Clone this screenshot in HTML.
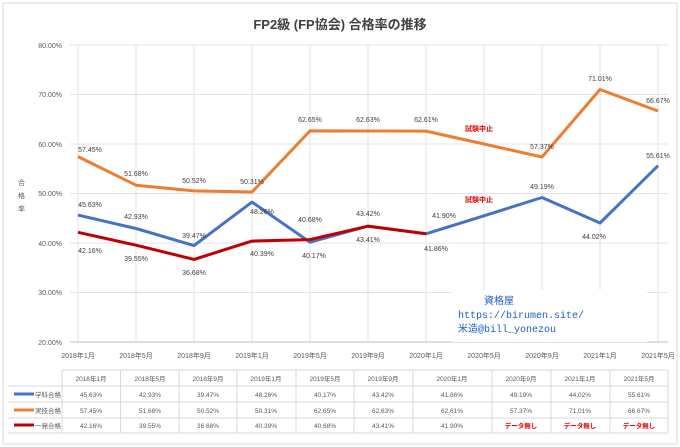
<!DOCTYPE html>
<html><head><meta charset="utf-8"><style>
body{margin:0;background:#fff;}
svg{display:block;font-family:"Liberation Sans","Noto Sans CJK JP",sans-serif;}
</style></head><body>
<svg width="680" height="447" viewBox="0 0 680 447" xmlns="http://www.w3.org/2000/svg">
<rect x="3" y="3" width="674" height="441" fill="#fff" stroke="#d9d9d9"/>
<text x="340" y="29" text-anchor="middle" font-size="13" font-weight="bold" fill="#404040">FP2級 (FP協会) 合格率の推移</text>
<g stroke="#e3e3e3" stroke-width="1">
<line x1="70" y1="45" x2="668" y2="45"/><line x1="70" y1="94.5" x2="668" y2="94.5"/><line x1="70" y1="144" x2="668" y2="144"/><line x1="70" y1="193.5" x2="668" y2="193.5"/><line x1="70" y1="243" x2="668" y2="243"/><line x1="70" y1="292.5" x2="668" y2="292.5"/>
<line x1="78" y1="45" x2="78" y2="342"/><line x1="136" y1="45" x2="136" y2="342"/><line x1="194" y1="45" x2="194" y2="342"/><line x1="252" y1="45" x2="252" y2="342"/><line x1="310" y1="45" x2="310" y2="342"/><line x1="368" y1="45" x2="368" y2="342"/><line x1="426" y1="45" x2="426" y2="342"/><line x1="484" y1="45" x2="484" y2="342"/><line x1="542" y1="45" x2="542" y2="342"/><line x1="600" y1="45" x2="600" y2="342"/><line x1="658" y1="45" x2="658" y2="342"/>
</g>
<line x1="70" y1="342" x2="668" y2="342" stroke="#bfbfbf"/>
<g font-size="7" fill="#595959" text-anchor="end">
<text x="62" y="48">80.00%</text><text x="62" y="97">70.00%</text><text x="62" y="147">60.00%</text><text x="62" y="196">50.00%</text><text x="62" y="246">40.00%</text><text x="62" y="295">30.00%</text><text x="62" y="345">20.00%</text>
</g>
<g font-size="7" fill="#595959"><text x="18" y="185">合</text><text x="18" y="198">格</text><text x="18" y="211">率</text></g>
<g font-size="7" fill="#595959" text-anchor="middle">
<text x="78" y="358">2018年1月</text><text x="136" y="358">2018年5月</text><text x="194" y="358">2018年9月</text><text x="252" y="358">2019年1月</text><text x="310" y="358">2019年5月</text><text x="368" y="358">2019年9月</text><text x="426" y="358">2020年1月</text><text x="484" y="358">2020年5月</text><text x="542" y="358">2020年9月</text><text x="600" y="358">2021年1月</text><text x="658" y="358">2021年5月</text>
</g>
<g fill="none" stroke-width="3" stroke-linejoin="round">
<polyline stroke="#ED7D31" points="78,156.6 136,185.2 194,190.9 252,192 310,130.9 368,131 426,131.1 484,144 542,157 600,89.5 658,111"/>
<polyline stroke="#4472C4" points="78,215.1 136,228.5 194,245.6 252,202.1 310,242.2 368,226.1 426,233.8 484,215.8 542,197.5 600,223 658,165.7"/>
<polyline stroke="#C00000" points="78,232.3 136,245.2 194,259.4 252,241.1 310,239.6 368,226.2 426,233.7"/>
</g>
<g font-size="7" fill="#404040" text-anchor="middle">
<text x="90" y="152">57.45%</text><text x="136" y="176">51.68%</text><text x="194" y="183">50.52%</text><text x="252" y="184">50.31%</text><text x="310" y="122">62.65%</text><text x="368" y="122">62.63%</text><text x="426" y="122">62.61%</text><text x="542" y="149">57.37%</text><text x="600" y="81">71.01%</text><text x="658" y="103">66.67%</text>
<text x="90" y="207">45.63%</text><text x="136" y="219">42.93%</text><text x="194" y="238">39.47%</text><text x="262" y="214">48.26%</text><text x="314" y="258">40.17%</text><text x="368" y="216">43.42%</text><text x="436" y="251">41.86%</text><text x="542" y="189">49.19%</text><text x="594" y="239">44.02%</text><text x="658" y="158">55.61%</text>
<text x="90" y="253">42.16%</text><text x="136" y="261">39.55%</text><text x="194" y="275">36.68%</text><text x="262" y="256">40.39%</text><text x="310" y="222">40.68%</text><text x="368" y="242">43.41%</text><text x="444" y="218">41.90%</text>
</g>
<g font-size="7" font-weight="bold" fill="#e00000"><text x="465" y="131">試験中止</text><text x="465" y="202">試験中止</text></g>
<rect x="452" y="290" width="195" height="52" fill="#fff"/>
<g font-size="10" fill="#1f5fbf" font-family="Liberation Mono,Noto Sans CJK JP,monospace"><text x="484" y="304">資格屋</text><text x="458" y="318">https://birumen.site/</text><text x="458" y="332">米造@bill_yonezou</text></g>
<g stroke="#d9d9d9"><line x1="62" y1="370" x2="668" y2="370"/><line x1="8" y1="386" x2="668" y2="386"/><line x1="8" y1="402" x2="668" y2="402"/><line x1="8" y1="418" x2="668" y2="418"/><line x1="8" y1="433" x2="668" y2="433"/>
<line x1="62" y1="370" x2="62" y2="433"/><line x1="120.5" y1="370" x2="120.5" y2="433"/><line x1="179" y1="370" x2="179" y2="433"/><line x1="237" y1="370" x2="237" y2="433"/><line x1="296" y1="370" x2="296" y2="433"/><line x1="354" y1="370" x2="354" y2="433"/><line x1="413" y1="370" x2="413" y2="433"/><line x1="492" y1="370" x2="492" y2="433"/><line x1="551" y1="370" x2="551" y2="433"/><line x1="610" y1="370" x2="610" y2="433"/><line x1="668" y1="370" x2="668" y2="433"/></g>
<g stroke-width="3"><line x1="14" y1="394" x2="34" y2="394" stroke="#4472C4"/><line x1="14" y1="410" x2="34" y2="410" stroke="#ED7D31"/><line x1="14" y1="425" x2="34" y2="425" stroke="#C00000"/></g>
<g font-size="6.5" fill="#595959"><text x="35" y="397">学科合格</text><text x="35" y="413">実技合格</text><text x="35" y="428">一発合格</text></g>
<g font-size="6.5" fill="#595959" text-anchor="middle">
<text x="91" y="381">2018年1月</text><text x="150" y="381">2018年5月</text><text x="208" y="381">2018年9月</text><text x="266" y="381">2019年1月</text><text x="325" y="381">2019年5月</text><text x="383" y="381">2019年9月</text><text x="452" y="381">2020年1月</text><text x="521" y="381">2020年9月</text><text x="580" y="381">2021年1月</text><text x="639" y="381">2021年5月</text>
<text x="91" y="397">45.63%</text><text x="150" y="397">42.93%</text><text x="208" y="397">39.47%</text><text x="266" y="397">48.26%</text><text x="325" y="397">40.17%</text><text x="383" y="397">43.42%</text><text x="452" y="397">41.86%</text><text x="521" y="397">49.19%</text><text x="580" y="397">44.02%</text><text x="639" y="397">55.61%</text>
<text x="91" y="413">57.45%</text><text x="150" y="413">51.68%</text><text x="208" y="413">50.52%</text><text x="266" y="413">50.31%</text><text x="325" y="413">62.65%</text><text x="383" y="413">62.63%</text><text x="452" y="413">62.61%</text><text x="521" y="413">57.37%</text><text x="580" y="413">71.01%</text><text x="639" y="413">66.67%</text>
<text x="91" y="428">42.16%</text><text x="150" y="428">39.55%</text><text x="208" y="428">36.68%</text><text x="266" y="428">40.39%</text><text x="325" y="428">40.68%</text><text x="383" y="428">43.41%</text><text x="452" y="428">41.90%</text>
</g>
<g font-size="6.5" font-weight="bold" fill="#e00000" text-anchor="middle"><text x="521" y="428">データ無し</text><text x="580" y="428">データ無し</text><text x="639" y="428">データ無し</text></g>
</svg>
</body></html>
